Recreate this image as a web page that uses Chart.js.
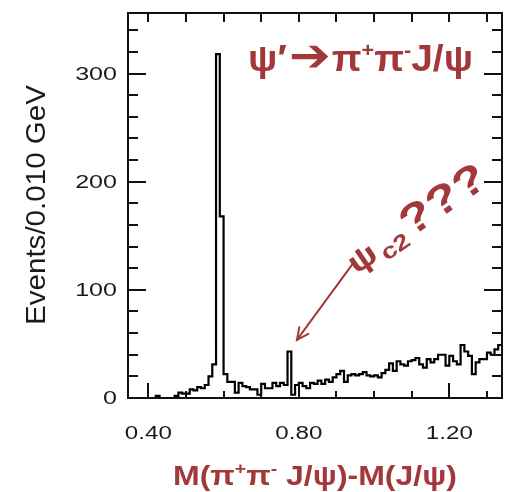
<!DOCTYPE html>
<html>
<head>
<meta charset="utf-8">
<script src="https://cdn.jsdelivr.net/npm/chart.js@4/dist/chart.umd.min.js"></script>
<style>
  html, body { margin: 0; padding: 0; background: #ffffff; }
  #c { display: block; }
</style>
</head>
<body>
<canvas id="c" width="515" height="492"></canvas>
<script>
// ---- data ----
const binStart = 0.35;          // lower edge of first bin (GeV)
const binWidth = 0.010;         // GeV
const counts = [
  0,0,0,0,0,0,0,2,0,0,
  0,0,2,5,4,4,8,7,10,9,
  12,20,31,318,168,22,15,15,5,14,
  11,10,8,8,3,13,9,9,14,11,
  14,12,43,3,12,14,11,9,14,13,
  16,13,17,15,19,22,25,15,21,22,
  21,22,24,21,20,21,19,23,26,32,
  25,34,31,30,34,35,37,31,28,36,
  33,36,40,40,30,39,34,31,49,43,
  39,22,33,36,36,42,40,45,49
];
const xTickValues = [0.40, 0.80, 1.20];
const xTickLabels = ['0.40', '0.80', '1.20'];
const yTickValues = [0, 100, 200, 300];
const yTickLabels = ['0', '100', '200', '300'];
const xMinorTicks = [0.4, 0.5, 0.6, 0.7, 0.8, 0.9, 1.0, 1.1, 1.2, 1.3];
const yMinorStep = 20;
const xRange = [0.346, 1.34];
const yRange = [0, 356];
const yTitle = 'Events/0.010 GeV';

// histogram points (value held from bin's lower edge to next edge)
const points = counts.map((v, i) => ({ x: +(binStart + i * binWidth).toFixed(3), y: v }));
points.push({ x: +(binStart + counts.length * binWidth).toFixed(3), y: counts[counts.length - 1] });

const RED = '#a2383a';

function drawRich(ctx, segs, x, y, o) {
  let total = 0;
  segs.forEach(s => { ctx.font = s.font; s.w = ctx.measureText(s.t).width; total += s.w + (s.gap || 0); });
  const sx = o.width ? o.width / total : (o.sx || 1);
  ctx.save();
  ctx.translate(x, y);
  if (o.angle) ctx.rotate(o.angle);
  ctx.scale(sx, 1);
  ctx.fillStyle = o.color || '#000';
  ctx.textBaseline = o.baseline || 'alphabetic';
  ctx.textAlign = 'left';
  let start = o.align === 'center' ? -total / 2 : (o.align === 'right' ? -total : 0);
  segs.forEach(s => {
    ctx.font = s.font;
    ctx.fillText(s.t, start, s.dy || 0);
    start += s.w + (s.gap || 0);
  });
  ctx.restore();
}

const decor = {
  id: 'decor',
  afterDatasetsDraw(chart) {
    const ctx = chart.ctx;
    const a = chart.chartArea;
    const xs = chart.scales.x, ys = chart.scales.y;
    ctx.save();
    // frame
    ctx.strokeStyle = '#111';
    ctx.lineWidth = 2;
    ctx.strokeRect(a.left, a.top, a.right - a.left, a.bottom - a.top);
    // y ticks (inward, left and right)
    for (let v = 0; v <= yRange[1]; v += yMinorStep) {
      const py = Math.round(ys.getPixelForValue(v));
      const major = v % 100 === 0;
      const L = major ? 18 : 10;
      ctx.beginPath();
      ctx.moveTo(a.left, py); ctx.lineTo(a.left + L, py);
      ctx.moveTo(a.right, py); ctx.lineTo(a.right - L, py);
      ctx.stroke();
    }
    // x ticks (inward, bottom and top)
    xMinorTicks.forEach(v => {
      const px = Math.round(xs.getPixelForValue(v));
      const major = xTickValues.some(t => Math.abs(t - v) < 1e-6);
      ctx.beginPath();
      ctx.moveTo(px, a.bottom); ctx.lineTo(px, a.bottom - (major ? 15 : 7));
      ctx.moveTo(px, a.top); ctx.lineTo(px, a.top + 9);
      ctx.stroke();
    });
    ctx.restore();

    // tick labels
    yTickValues.forEach((v, i) => {
      drawRich(ctx, [{ t: yTickLabels[i], font: '19px "Liberation Sans", Arial, sans-serif' }],
        117, ys.getPixelForValue(v) + 1, { align: 'right', sx: 1.32, baseline: 'middle', color: '#1a1a1a' });
    });
    xTickValues.forEach((v, i) => {
      drawRich(ctx, [{ t: xTickLabels[i], font: '18px "Liberation Sans", Arial, sans-serif' }],
        xs.getPixelForValue(v), 434, { align: 'center', sx: 1.34, baseline: 'middle', color: '#1a1a1a' });
    });
    // y title
    drawRich(ctx, [{ t: yTitle, font: '28px "Liberation Sans", Arial, sans-serif' }],
      45, 205, { align: 'center', width: 240, angle: -Math.PI / 2, color: '#1a1a1a' });
    // x title
    const B = 'bold 28px "Liberation Sans", Arial, sans-serif';
    const Bs = 'bold 17px "Liberation Sans", Arial, sans-serif';
    drawRich(ctx, [
      { t: 'M(π', font: B }, { t: '+', font: Bs, dy: -11 },
      { t: 'π', font: B }, { t: '-', font: Bs, dy: -11 },
      { t: ' J/ψ)-M(J/ψ)', font: B }
    ], 315, 485, { align: 'center', width: 284, color: RED });

    // title annotation  psi' -> pi+ pi- J/psi
    const T = 'bold 36px "Liberation Sans", Arial, sans-serif';
    const Ts = 'bold 20px "Liberation Sans", Arial, sans-serif';
    drawRich(ctx, [
      { t: 'ψ', font: T }, { t: '′', font: T, gap: 2 },
      { t: '➔', font: 'bold 46px "DejaVu Sans", sans-serif', dy: 0, gap: 1 },
      { t: 'π', font: T }, { t: '+', font: Ts, dy: -14 },
      { t: 'π', font: T }, { t: '-', font: Ts, dy: -14 },
      { t: 'J/ψ', font: T }
    ], xs.getPixelForValue(0.665), ys.getPixelForValue(302), { width: 225, color: RED });

    // rotated psi_c2 ??? annotation
    drawRich(ctx, [
      { t: 'ψ', font: 'bold 31px "Liberation Sans", Arial, sans-serif', gap: 3 },
      { t: 'c2', font: 'bold 22px "Liberation Sans", Arial, sans-serif', dy: 6, gap: 2 },
      { t: '???', font: 'bold 42px "Liberation Sans", Arial, sans-serif' }
    ], xs.getPixelForValue(0.952), ys.getPixelForValue(114), { width: 162, angle: -34 * Math.PI / 180, color: RED });

    // arrow pointing to the small peak
    const x1 = xs.getPixelForValue(0.944), y1 = ys.getPixelForValue(124.5);
    const x2 = xs.getPixelForValue(0.795), y2 = ys.getPixelForValue(53.7);
    ctx.save();
    ctx.strokeStyle = RED;
    ctx.lineWidth = 2;
    ctx.lineCap = 'round';
    ctx.beginPath(); ctx.moveTo(x1, y1); ctx.lineTo(x2, y2); ctx.stroke();
    const ang = Math.atan2(y2 - y1, x2 - x1), h = 13;
    ctx.beginPath();
    ctx.moveTo(x2 - h * Math.cos(ang - 0.45), y2 - h * Math.sin(ang - 0.45));
    ctx.lineTo(x2, y2);
    ctx.lineTo(x2 - h * Math.cos(ang + 0.45), y2 - h * Math.sin(ang + 0.45));
    ctx.stroke();
    ctx.restore();
  }
};

new Chart(document.getElementById('c'), {
  type: 'line',
  data: {
    datasets: [{
      data: points,
      stepped: 'before',
      borderColor: '#000',
      borderWidth: 2.2,
      pointRadius: 0,
      fill: false,
      tension: 0
    }]
  },
  options: {
    responsive: false,
    animation: false,
    devicePixelRatio: 1,
    layout: { padding: { left: 128, right: 13, top: 13, bottom: 94 } },
    plugins: { legend: { display: false }, tooltip: { enabled: false } },
    scales: {
      x: { type: 'linear', min: xRange[0], max: xRange[1], display: false },
      y: { type: 'linear', min: yRange[0], max: yRange[1], display: false }
    }
  },
  plugins: [decor]
});
</script>
</body>
</html>
